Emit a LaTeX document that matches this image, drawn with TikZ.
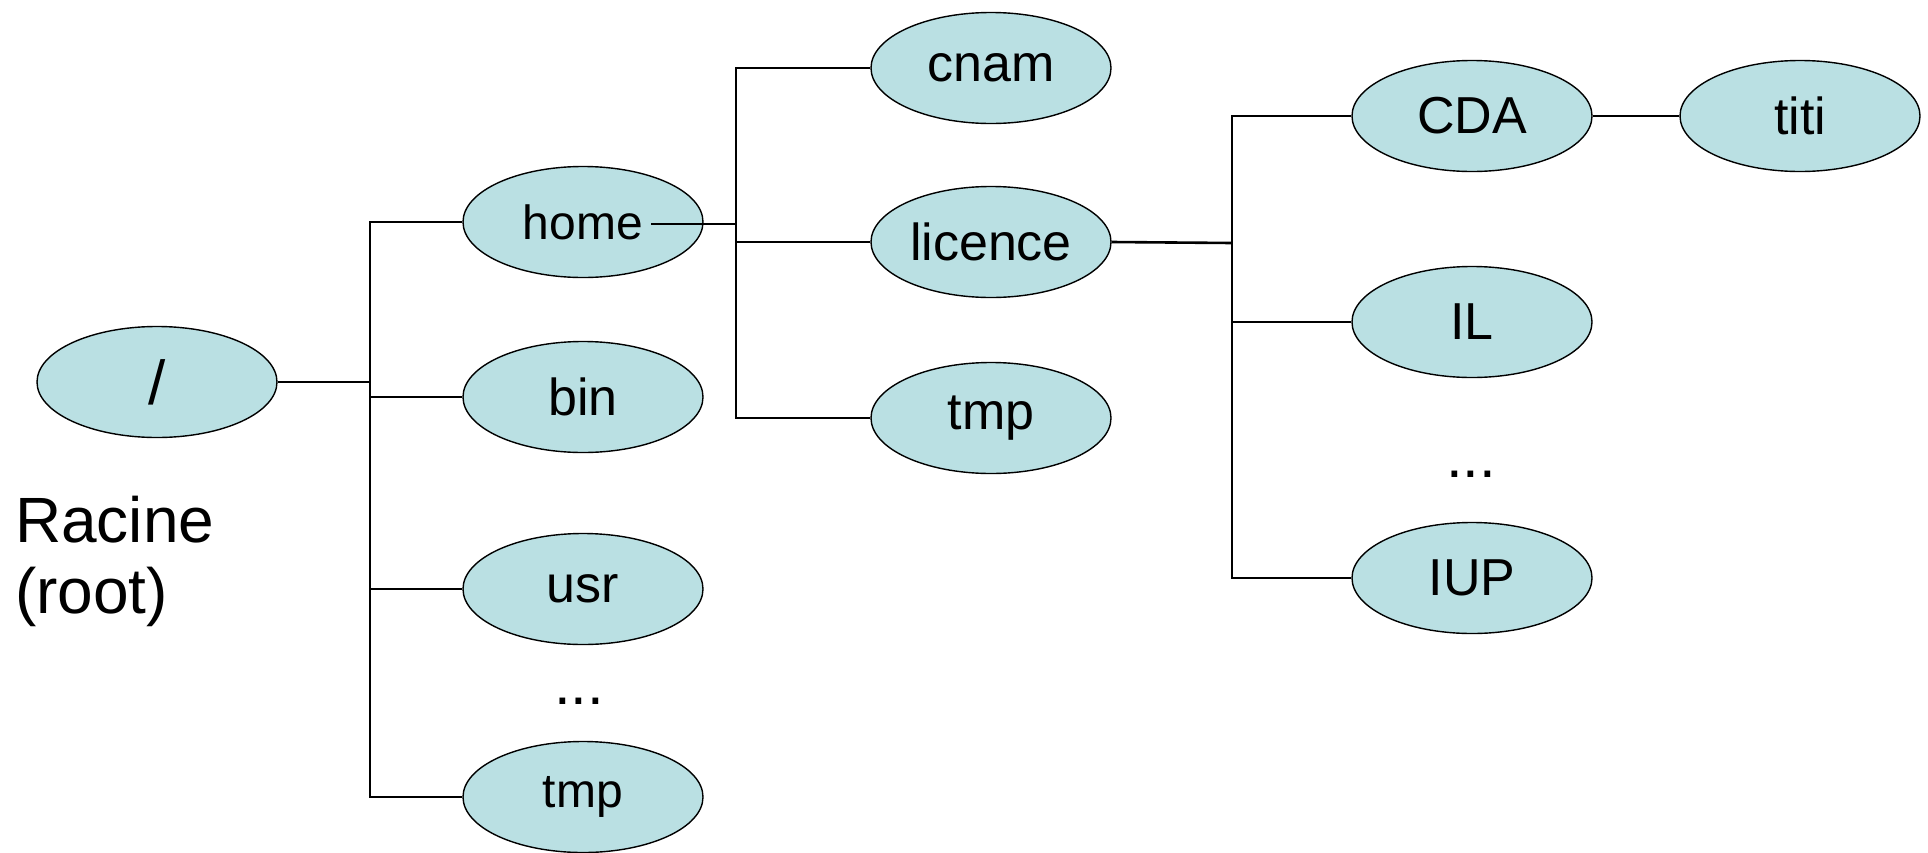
\documentclass[tikz,border=0pt]{standalone}
\usepackage{fontspec}
\setmainfont{Liberation Sans}
\usetikzlibrary{shapes.geometric}
\definecolor{nodefill}{RGB}{186,224,227}
\tikzset{
  dir/.style={ellipse, draw=black, line width=1.4pt, fill=nodefill, minimum width=240pt, minimum height=111pt, inner sep=0pt, font=\fontsize{52}{60}\selectfont},
  small text/.style={font=\fontsize{48}{56}\selectfont},
  link/.style={line width=1.6pt, draw=black},
  thick link/.style={line width=2.6pt, draw=black},
  lbl/.style={font=\fontsize{60}{66}\selectfont, inner sep=0pt}
}
\begin{document}
\begin{tikzpicture}[x=1pt,y=-1pt]
\useasboundingbox (0,0) rectangle (1928,852);
% nodes
\node[dir, font=\fontsize{62}{70}\selectfont] (root) at (157,382) {/};
\node[dir, small text] (home) at (583,222) {home};
\node[dir] (bin) at (583,397) {bin};
\node[dir] (usr) at (583,589) {usr};
\node[dir, small text] (tmpa) at (583,797) {tmp};
\node[dir] (cnam) at (991,68) {cnam};
\node[dir] (licence) at (991,242) {licence};
\node[dir] (tmpb) at (991,418) {tmp};
\node[dir] (cda) at (1472,116) {CDA};
\node[dir] (il) at (1472,322) {IL};
\node[dir] (iup) at (1472,578) {IUP};
\node[dir] (titi) at (1800,116) {titi};
\node[lbl] (dotsa) at (579,701) {...};
\node[lbl] (dotsb) at (1471,474) {...};
\node[font=\fontsize{64}{71}\selectfont, align=left, anchor=north west, inner sep=0pt] (racine) at (15,496) {Racine\\(root)};
% buses
\coordinate (ba) at (370,382);
\coordinate (bb) at (736,224);
\coordinate (bc) at (1232,243);
\draw[thick link] (root.east) -- (ba);
\draw[link] (ba) |- (home.west);
\draw[link] (ba) |- (bin.west);
\draw[link] (ba) |- (usr.west);
\draw[link] (ba) |- (tmpa.west);
\draw[thick link] ([xshift=68pt,yshift=-2pt]home.center) -- (bb);
\draw[link] (bb) |- (cnam.west);
\draw[link] (bb) |- (licence.west);
\draw[link] (bb) |- (tmpb.west);
\draw[thick link] (licence.east) -- (bc);
\draw[link] (bc) |- (cda.west);
\draw[link] (bc) |- (il.west);
\draw[link] (bc) |- (iup.west);
\draw[link] (cda.east) -- (titi.west);
\end{tikzpicture}
\end{document}
